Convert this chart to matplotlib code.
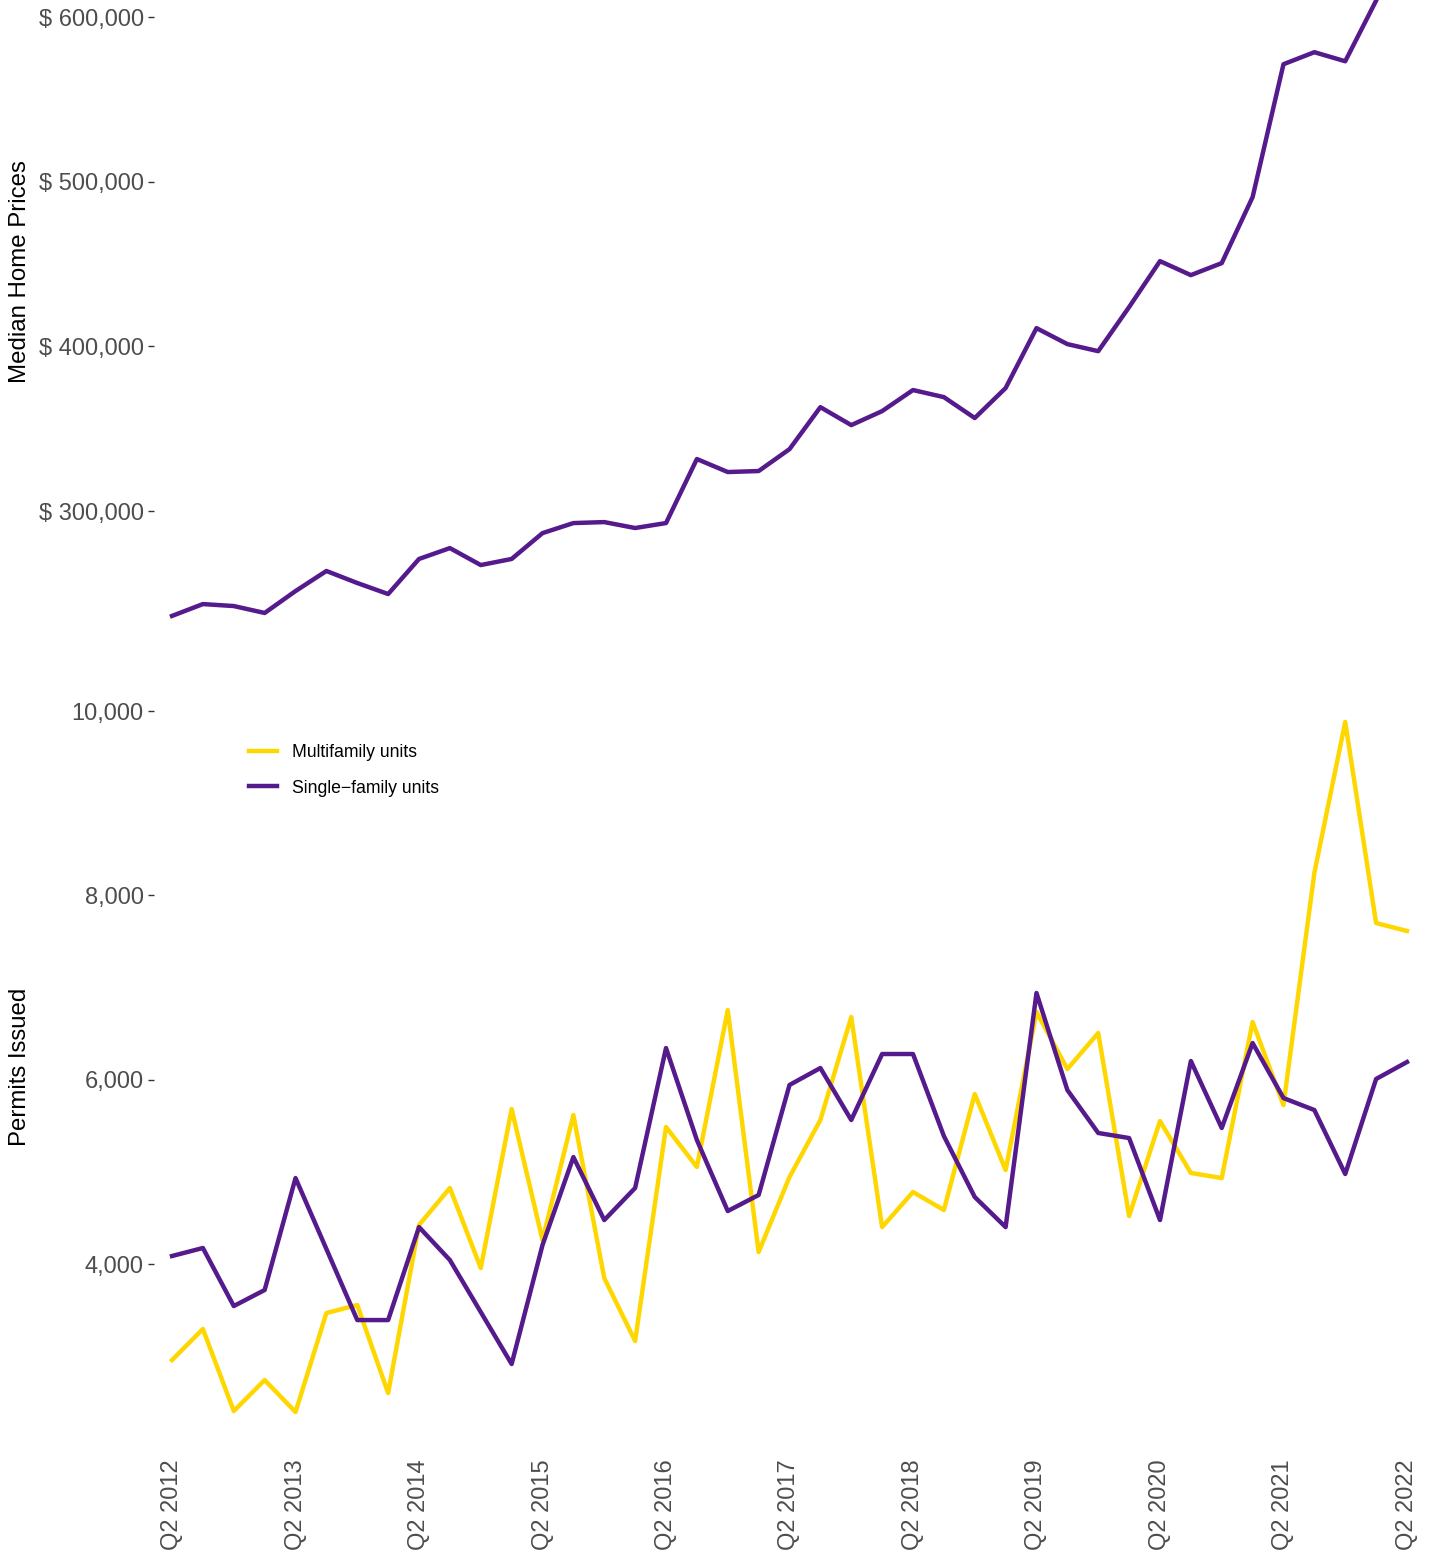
import numpy as np
import matplotlib
matplotlib.use("Agg")
from matplotlib import pyplot as plt
from matplotlib.ticker import FuncFormatter

plt.rcParams['font.family'] = ['Liberation Sans', 'DejaVu Sans']

# quarters Q2 2012 .. Q2 2022
quarters = []
for yr in range(2012, 2023):
    for q in (1, 2, 3, 4):
        if (yr == 2012 and q < 2) or (yr == 2022 and q > 2):
            continue
        quarters.append("Q%d %d" % (q, yr))

home_price = [236300, 243500, 242300, 238100, 251400, 263600, 256300, 249600,
              270900, 277500, 267200, 270900, 286600, 292700, 293300, 289700,
              292700, 331600, 323700, 324300, 337600, 363100, 352200, 360700,
              373500, 369200, 356500, 374700, 411100, 401400, 397100, 423900,
              451800, 443300, 450600, 490700, 571400, 578700, 573200, 610000,
              655000]

multifamily = [2958, 3295, 2405, 2741, 2394, 3468, 3555, 2600, 4423, 4825,
               3957, 5682, 4260, 5617, 3848, 3164, 5487, 5053, 6756, 4130,
               4944, 5563, 6680, 4401, 4781, 4586, 5845, 5020, 6735, 6116,
               6507, 4521, 5552, 4988, 4933, 6626, 5725, 8243, 9882, 7700,
               7614]

single_family = [4087, 4174, 3544, 3718, 4933, 4163, 3392, 3392, 4401, 4043,
                 3479, 2915, 4206, 5161, 4477, 4825, 6344, 5346, 4575, 4749,
                 5943, 6127, 5563, 6279, 6279, 5389, 4727, 4401, 6941, 5888,
                 5422, 5367, 4477, 6203, 5476, 6398, 5801, 5671, 4977, 6008,
                 6192]

gold = "#FFD700"
purple = "#551A8B"
grey = "#4D4D4D"

x = np.arange(len(quarters))
W, H = 1437, 1553
fig = plt.figure(figsize=(W / 100, H / 100), dpi=100)

left = 153.5 / W
width = (1425.5 - 153.5) / W
ax1 = fig.add_axes([left, 1 - 651 / H, width, (651 + 108) / H])
ax2 = fig.add_axes([left, 1 - 1446.5 / H, width, (1446.5 - 687.5) / H])

ax1.plot(x, home_price, color=purple, lw=3.2)
ax2.plot(x, multifamily, color=gold, lw=3.2, label="Multifamily units")
ax2.plot(x, single_family, color=purple, lw=3.2, label="Single\u2212family units")

for ax in (ax1, ax2):
    ax.set_xlim(-0.6, len(quarters) - 0.4)
    for s in ax.spines.values():
        s.set_visible(False)
    ax.tick_params(axis='y', length=4, width=1, color="#333333",
                   labelsize=17, labelcolor=grey, pad=3)

ax1.set_ylim(215000, 676000)
ax1.set_yticks([300000, 400000, 500000, 600000])
ax1.yaxis.set_major_formatter(FuncFormatter(lambda v, p: "$ {:,.0f}".format(v)))
ax1.set_xticks([])
ax1.set_ylabel("Median Home Prices", fontsize=17.3, color="black")

ax2.set_ylim(2020, 10256)
ax2.set_yticks([4000, 6000, 8000, 10000])
ax2.yaxis.set_major_formatter(FuncFormatter(lambda v, p: "{:,.0f}".format(v)))
ax2.set_xticks(x[::4])
ax2.set_xticklabels([quarters[i] for i in range(0, len(quarters), 4)],
                    rotation=90, fontsize=17, color=grey)
ax2.tick_params(axis='x', length=0, pad=9)
ax2.set_ylabel("Permits Issued", fontsize=17.3, color="black")

# both y titles sit at the same distance from the figure edge
lab_x = (9 - 153.5) / (1425.5 - 153.5)
for ax in (ax1, ax2):
    ax.yaxis.set_label_coords(lab_x, 0.5)
    ax.yaxis.label.set_va('top')

ax2.legend(loc='upper left', bbox_to_anchor=(249 / W, 1 - 744 / H),
           bbox_transform=fig.transFigure, frameon=False, fontsize=12.7,
           handlelength=1.6, handletextpad=0.85, labelspacing=1.05,
           borderpad=0, borderaxespad=0)

fig.savefig("out.png", dpi=100)
